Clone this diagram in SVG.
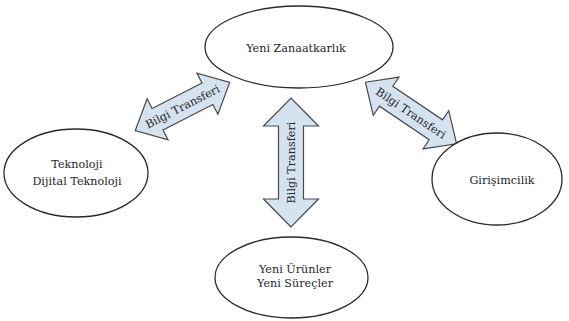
<svg xmlns="http://www.w3.org/2000/svg" width="569" height="321" viewBox="0 0 569 321">
<style>
.node ellipse{fill:#fff;stroke:#2a2a2a;stroke-width:1.3}
.t{font-family:"DejaVu Serif",serif;font-size:11.2px;fill:#262626;text-anchor:middle}
.arr{fill:#d5e2f0;stroke:#4a4a4a;stroke-width:1.2;stroke-linejoin:miter}
</style>
<rect width="569" height="321" fill="#fff"/>
<g id="connectors">
<g transform="translate(182.5,106.5) rotate(-27)">
<polygon class="arr" points="-53,0 -28,-23 -28,-12 28,-12 28,-23 53,0 28,23 28,12 -28,12 -28,23"/>
<text class="t" x="0" y="4">Bilgi Transferi</text>
</g>
<g transform="translate(291,162.5) rotate(-90)">
<polygon class="arr" points="-64.5,0 -36.5,-27.5 -36.5,-12.5 36.5,-12.5 36.5,-27.5 64.5,0 36.5,27.5 36.5,12.5 -36.5,12.5 -36.5,27.5"/>
<text class="t" x="0" y="4">Bilgi Transferi</text>
</g>
<g transform="translate(411,113) rotate(34)">
<polygon class="arr" points="-55,0 -30,-23 -30,-12 30,-12 30,-23 55,0 30,23 30,12 -30,12 -30,23"/>
<text class="t" x="0" y="4">Bilgi Transferi</text>
</g>
</g>
<g id="node-zanaat" class="node">
<ellipse cx="299" cy="47" rx="94" ry="41"/>
<text class="t" x="296" y="52">Yeni Zanaatkarlık</text>
</g>
<g id="node-teknoloji" class="node">
<ellipse cx="76" cy="173" rx="72" ry="44"/>
<text class="t" x="77" y="168">Teknoloji</text>
<text class="t" x="77" y="185">Dijital Teknoloji</text>
</g>
<g id="node-girisim" class="node">
<ellipse cx="497" cy="179" rx="65" ry="46"/>
<text class="t" x="502" y="184">Girişimcilik</text>
</g>
<g id="node-urunler" class="node">
<ellipse cx="291.5" cy="277.5" rx="76.5" ry="40.5"/>
<text class="t" x="295" y="273">Yeni Ürünler</text>
<text class="t" x="295" y="287">Yeni Süreçler</text>
</g>
</svg>
